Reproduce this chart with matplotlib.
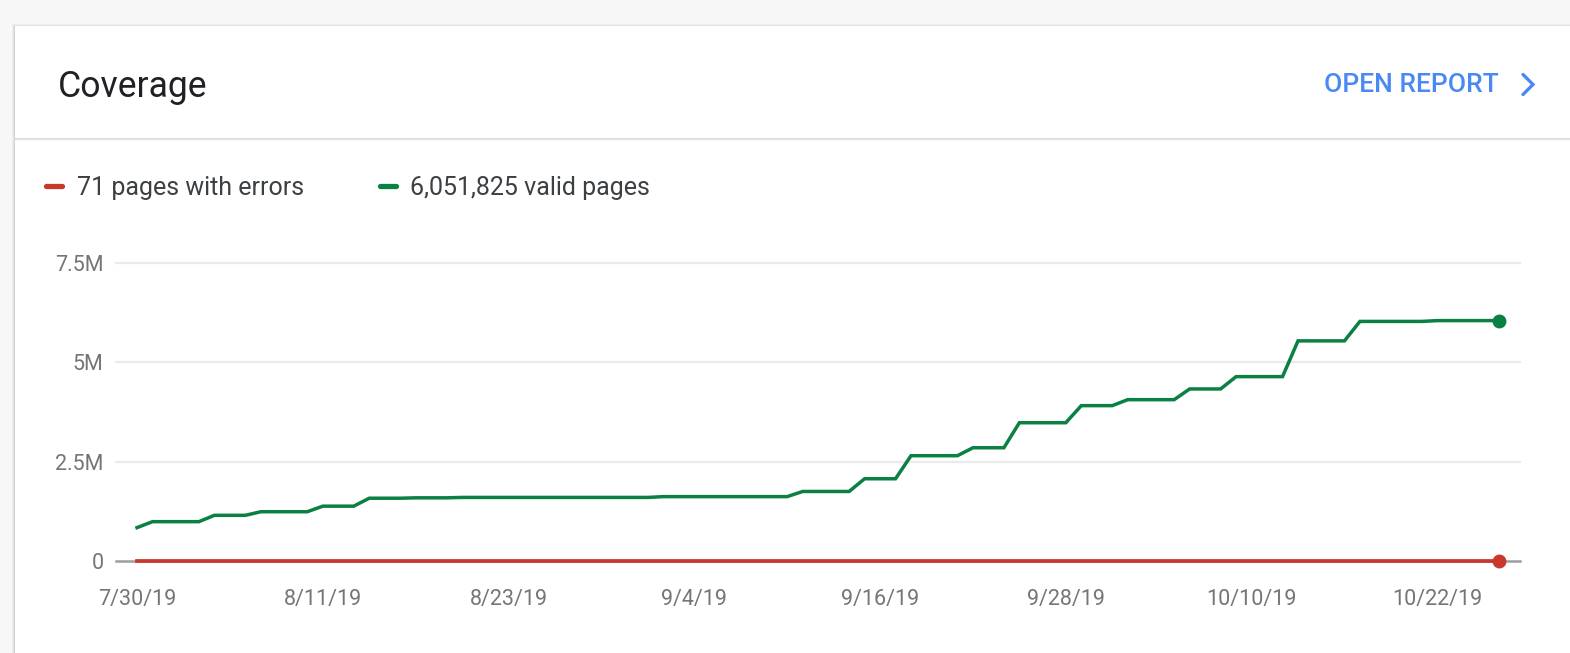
import numpy as np
import pandas as pd
import matplotlib
matplotlib.use('Agg')
import matplotlib.pyplot as plt
from matplotlib.patches import Rectangle
from matplotlib.lines import Line2D

plt.rcParams['font.family'] = ['Roboto', 'DejaVu Sans']

# daily counts, 7/30/19 .. 10/26/19
valid = [0.84e6,
         0.99e6, 0.99e6, 0.99e6, 0.99e6,
         1.15e6, 1.15e6, 1.15e6,
         1.24e6, 1.24e6, 1.24e6, 1.24e6,
         1.38e6, 1.38e6, 1.38e6,
         1.58e6, 1.58e6, 1.58e6, 1.59e6, 1.59e6, 1.59e6,
         1.60e6, 1.60e6, 1.60e6, 1.60e6, 1.60e6, 1.60e6, 1.60e6, 1.60e6,
         1.60e6, 1.60e6, 1.60e6, 1.60e6, 1.60e6,
         1.62e6, 1.62e6, 1.62e6, 1.62e6, 1.62e6, 1.62e6, 1.62e6, 1.62e6, 1.62e6,
         1.75e6, 1.75e6, 1.75e6, 1.75e6,
         2.07e6, 2.07e6, 2.07e6,
         2.65e6, 2.65e6, 2.65e6, 2.65e6,
         2.85e6, 2.85e6, 2.85e6,
         3.48e6, 3.48e6, 3.48e6, 3.48e6,
         3.91e6, 3.91e6, 3.91e6,
         4.06e6, 4.06e6, 4.06e6, 4.06e6,
         4.33e6, 4.33e6, 4.33e6,
         4.64e6, 4.64e6, 4.64e6, 4.64e6,
         5.54e6, 5.54e6, 5.54e6, 5.54e6,
         6.03e6, 6.03e6, 6.03e6, 6.03e6, 6.03e6,
         6.05e6, 6.05e6, 6.05e6, 6.05e6, 6.051825e6]

errors = [71, 71, 71, 71, 71, 71, 71, 71, 71, 71,
          71, 71, 71, 71, 71, 71, 71, 71, 71, 71,
          71, 71, 71, 71, 71, 71, 71, 71, 71, 71,
          71, 71, 71, 71, 71, 71, 71, 71, 71, 71,
          71, 71, 71, 71, 71, 71, 71, 71, 71, 71,
          71, 71, 71, 71, 71, 71, 71, 71, 71, 71,
          71, 71, 71, 71, 71, 71, 71, 71, 71, 71,
          71, 71, 71, 71, 71, 71, 71, 71, 71, 71,
          71, 71, 71, 71, 71, 71, 71, 71, 71]

tick_labels = ['7/30/19', '8/11/19', '8/23/19', '9/4/19',
               '9/16/19', '9/28/19', '10/10/19', '10/22/19']
ytick_vals = [0, 2.5e6, 5e6, 7.5e6]
ytick_labels = ['0', '2.5M', '5M', '7.5M']

red = '#c8392b'
green = '#0b8043'
blue = '#4a89f3'

dates = pd.date_range('2019-07-30', periods=len(valid), freq='D')
tick_dates = pd.to_datetime(tick_labels, format='%m/%d/%y')

W, H = 1570, 653
fig = plt.figure(figsize=(W / 100, H / 100), dpi=100, facecolor='#f7f7f7')

# background layer in pixel coordinates
bg = fig.add_axes([0, 0, 1, 1])
bg.set_xlim(0, W)
bg.set_ylim(H, 0)
bg.axis('off')
for i, a in enumerate([0.03, 0.05, 0.08]):
    bg.add_patch(Rectangle((15 - (3 - i), 26 - (3 - i) + 1), W, H, color='black', alpha=a, lw=0))
bg.add_patch(Rectangle((15, 26), W, H, color='white', lw=0))
bg.plot([15, W], [138.5, 138.5], color='#e0e0e0', lw=1.6)

bg.text(58, 97, 'Coverage', fontsize=25.6, color='#202124', va='baseline', ha='left')
bg.text(1324, 92, 'OPEN REPORT', fontsize=19, color=blue, fontweight='medium',
        va='baseline', ha='left')
bg.add_line(Line2D([1523, 1533, 1523], [74.5, 84.5, 94.5], color=blue, lw=2.4,
                   solid_capstyle='round', solid_joinstyle='miter'))

# legend
bg.add_line(Line2D([45.5, 61.5], [186, 186], color=red, lw=3.8, solid_capstyle='round'))
bg.text(77, 195, '71 pages with errors', fontsize=18, color='#3c4043', va='baseline')
bg.add_line(Line2D([379.5, 395.5], [186, 186], color=green, lw=3.8, solid_capstyle='round'))
bg.text(410, 195, '6,051,825 valid pages', fontsize=18, color='#3c4043', va='baseline')

# chart
ax = fig.add_axes([116 / W, (H - 561) / H, 1404 / W, 298 / H])
ax.set_facecolor('none')
day = pd.Timedelta(days=1)
ax.set_xlim(dates[0] - 1.357 * day, dates[0] + 89.34 * day)
ax.set_ylim(0, 7.5e6)

for v in ytick_vals[1:]:
    ax.axhline(v, color='#ebebeb', lw=1.6, zorder=1, clip_on=False)
ax.axhline(0, color='#9e9e9e', lw=1.8, zorder=1, clip_on=False)

ax.plot(dates, valid, color=green, lw=2.5, zorder=3, solid_joinstyle='miter')
ax.plot(dates, errors, color=red, lw=2.7, zorder=3, clip_on=False)
ax.plot(dates[-1:], valid[-1:], 'o', color=green, ms=9, zorder=4, clip_on=False)
ax.plot(dates[-1:], errors[-1:], 'o', color=red, ms=9, zorder=4, clip_on=False)

ax.set_xticks(tick_dates)
ax.set_xticklabels(tick_labels)
ax.set_yticks(ytick_vals)
ax.set_yticklabels(ytick_labels)
ax.tick_params(axis='both', length=0, labelsize=15.5, labelcolor='#757575')
ax.tick_params(axis='x', pad=20)
ax.tick_params(axis='y', pad=9)
for s in ax.spines.values():
    s.set_visible(False)

fig.savefig('out.png', dpi=100, facecolor=fig.get_facecolor())
